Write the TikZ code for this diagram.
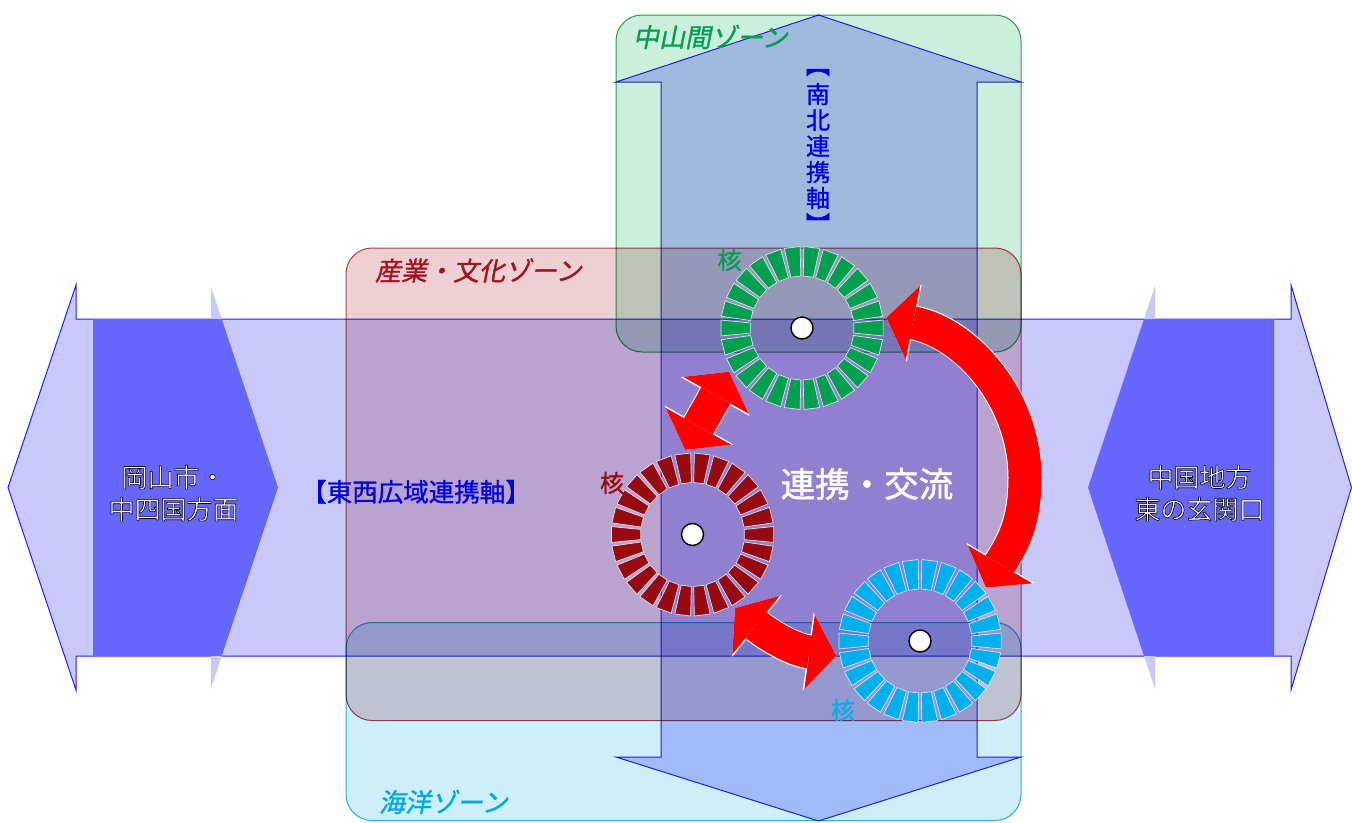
\documentclass[tikz,border=0pt]{standalone}
\usepackage{fontspec}
\usetikzlibrary{arrows.meta}
\newfontfamily\jp{Noto Sans CJK JP}
\newfontfamily\jpit{Noto Sans CJK JP}[FakeSlant=0.2]
\definecolor{greenfill}{RGB}{204,238,221}
\definecolor{greenline}{RGB}{40,165,100}
\definecolor{redfill}{RGB}{238,208,212}
\definecolor{redline}{RGB}{185,70,85}
\definecolor{cyanfill}{RGB}{205,238,250}
\definecolor{cyanline}{RGB}{50,180,230}
\definecolor{axisfill}{RGB}{200,200,255}
\definecolor{bandfill}{RGB}{200,200,250}
\definecolor{axisline}{RGB}{40,40,235}
\definecolor{chevdark}{RGB}{102,102,255}
\definecolor{gearG}{RGB}{0,160,80}
\definecolor{gearR}{RGB}{150,10,16}
\definecolor{gearC}{RGB}{0,176,236}
\definecolor{zoneRtext}{RGB}{160,20,30}
\definecolor{zoneCtext}{RGB}{0,170,225}
\definecolor{axistext}{RGB}{0,0,225}
\definecolor{segline}{RGB}{225,225,235}
\definecolor{arrred}{RGB}{255,0,0}
% #1 stroke colour as "r g b", #2 stroke width
\newcommand\outlon[2]{\special{pdf:literal direct #1 RG #2 w 1 j 2 Tr}}
\newcommand\outloff{\special{pdf:literal direct 0 Tr}}
\newcommand\drawgear[2]{%
  \begin{scope}[shift={(#1.center)}]
    \foreach \k in {0,...,25}{
      \pgfmathsetmacro\aa{\k*360/26-5.6}
      \pgfmathsetmacro\bb{\k*360/26+5.6}
      \filldraw[fill=#2, seg] (\aa:52) -- (\aa:81.5) -- (\bb:81.5) -- (\bb:52) -- cycle;
    }
    \filldraw[fill=white, draw=black, line width=1.4pt] (0,0) circle[radius=11];
  \end{scope}}
\tikzset{
  zone/.style={rounded corners=26pt, line width=1pt, blend mode=multiply},
  axisarrow/.style={fill=#1, draw=axisline, line width=1pt, blend mode=multiply},
  chevron/.style={fill=bandfill, path picture={\fill[chevdark] (0,-319) rectangle (1352,-656);}},
  gearnode/.style={circle, minimum size=170pt, inner sep=0pt, outer sep=0pt},
  seg/.style={draw=segline, line width=0.7pt},
  bigarr/.style={draw=arrred, line width=33pt,
    arrows={Triangle[width=75pt,length=27pt,line width=0pt]-Triangle[width=75pt,length=27pt,line width=0pt]},
    preaction={draw=white, line width=35pt,
      arrows={Triangle[width=79pt,length=28.5pt,line width=0pt]-Triangle[width=79pt,length=28.5pt,line width=0pt]}}},
  lbl/.style={inner sep=0pt, outer sep=0pt},
}
\begin{document}
\begin{tikzpicture}[x=1pt,y=1pt]
\useasboundingbox (0,0) rectangle (1352,-822);
\fill[white] (0,0) rectangle (1352,-822);
% zones
\draw[zone, fill=greenfill, draw=greenline] (616,-15) rectangle (1021,-352);
\draw[zone, fill=cyanfill, draw=cyanline] (346,-622.5) rectangle (1021,-820.5);
\draw[zone, fill=redfill, draw=redline] (346,-248) rectangle (1021,-720.5);
% north-south axis arrow
\draw[axisarrow=axisfill] (818.5,-15) -- (1021,-82) -- (977,-82) -- (977,-757) -- (1021,-757) -- (818.5,-821) -- (616,-757) -- (661,-757) -- (661,-82) -- (616,-82) -- cycle;
% east-west axis arrow
\draw[axisarrow=bandfill] (8,-487.5) -- (76,-285) -- (76,-319) -- (1291,-319) -- (1291,-285) -- (1351.5,-487.5) -- (1291,-690) -- (1291,-656) -- (76,-656) -- (76,-690) -- cycle;
% chevrons
\path[chevron] (93,-319) -- (211,-319) -- (211,-287) -- (278,-487.5) -- (211,-688) -- (211,-656) -- (93,-656) -- cycle;
\path[chevron] (1274,-319) -- (1155,-319) -- (1155,-286) -- (1088,-487.5) -- (1155,-689) -- (1155,-656) -- (1274,-656) -- cycle;
% gears
\node[gearnode] (gG) at (802,-328) {};
\node[gearnode] (gR) at (692.5,-534.5) {};
\node[gearnode] (gC) at (920,-641) {};
\drawgear{gG}{gearG}
\drawgear{gR}{gearR}
\drawgear{gC}{gearC}
% exchange arrows
\coordinate (cm) at (1025,-478);
\draw[bigarr] (gG.211) -- (gR.95);
\draw[bigarr] (gR.300) to[out=-39,in=172] (gC.190);
\draw[bigarr] (gG.7) .. controls (966,-333) and (1025,-398) .. (cm) .. controls (1025,-527) and (1010,-547) .. (gC.39);
% labels
\node[lbl, anchor=north, align=center, text=white, font=\jp\fontsize{26}{32}\selectfont] (tL) at (173.5,-464.6) {\strut\outlon{0 0 0}{0.6}岡山市・\\中四国方面\outloff};
\node[lbl, anchor=north, align=center, text=white, font=\jp\fontsize{26}{32}\selectfont] (tR) at (1199.5,-464.6) {\strut\outlon{0 0 0}{0.6}中国地方\\東の玄関口\outloff};
\node[lbl, anchor=base west, text=gearG, font=\jpit\fontsize{26}{30}\selectfont] (zG) at (633,-47) {\outlon{0 0.627 0.314}{0.3}中山間ゾーン\outloff};
\node[lbl, anchor=base west, text=zoneRtext, font=\jpit\fontsize{26}{30}\selectfont] (zR) at (375,-280.5) {\outlon{0.627 0.078 0.118}{0.3}産業・文化ゾーン\outloff};
\node[lbl, anchor=base west, text=zoneCtext, font=\jpit\fontsize{26}{30}\selectfont] (zC) at (379,-812) {\outlon{0 0.667 0.882}{0.3}海洋ゾーン\outloff};
\node[lbl, anchor=north, align=center, text=axistext, font=\jp\fontsize{24}{26}\selectfont] (tNS) at (818,-56) {\strut\outlon{0 0 0.882}{0.25}︻\\南\\北\\連\\携\\軸\\︼\outloff};
\node[lbl, anchor=base, text=axistext, font=\jp\fontsize{25.5}{30}\selectfont] (tEW) at (416,-501.5) {\outlon{0 0 0.882}{0.25}【東西広域連携軸】\outloff};
\node[lbl, anchor=base, text=white, font=\jp\fontsize{34.5}{40}\selectfont] (tX) at (867,-497) {\outlon{1 1 1}{0.5}連携・交流\outloff};
\node[lbl, anchor=base, text=gearG, font=\jp\fontsize{24}{28}\selectfont] (kG) at (729.5,-269) {\outlon{0 0.627 0.314}{0.25}核\outloff};
\node[lbl, anchor=base, text=gearR, font=\jp\fontsize{24}{28}\selectfont] (kR) at (612,-492) {\outlon{0.588 0.039 0.063}{0.25}核\outloff};
\node[lbl, anchor=base, text=gearC, font=\jp\fontsize{24}{28}\selectfont] (kC) at (843,-719) {\outlon{0 0.69 0.925}{0.25}核\outloff};
\end{tikzpicture}
\end{document}
